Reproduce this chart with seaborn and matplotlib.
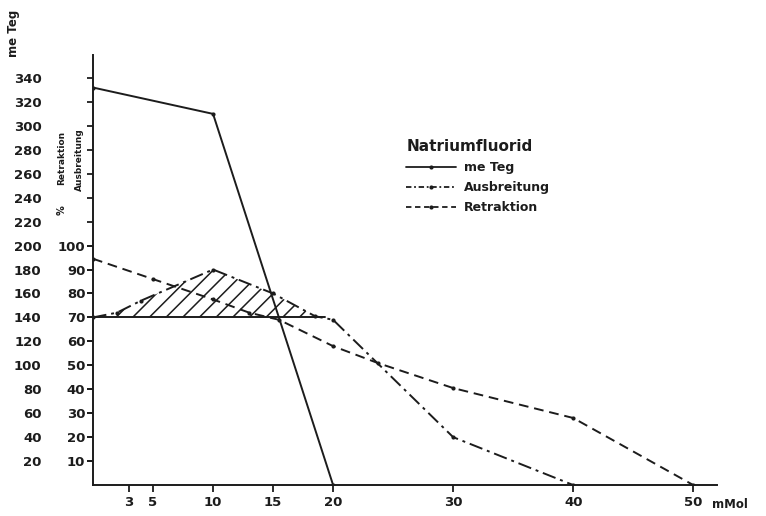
import matplotlib
matplotlib.use("Agg")
import matplotlib.pyplot as plt
from matplotlib.lines import Line2D
import seaborn as sns

# --- data (x in mMol NaF) ---
meteg_x = [0, 10, 20]
meteg_y = [332, 310, 0]            # me Teg

ausbr_x = [0, 2, 4, 10, 15, 18.5, 20, 30, 40]
ausbr_y = [70, 72, 77, 90, 80, 70.5, 69, 20, 0]        # % Ausbreitung

retr_x = [0, 5, 10, 13, 15.5, 20, 23.7, 30, 40, 50]
retr_y = [94.5, 86, 77.5, 72, 69, 58, 51, 40.5, 28, 0]  # % Retraktion

x_ticks = [3, 5, 10, 15, 20, 30, 40, 50]
meteg_ticks = list(range(20, 341, 20))
pct_ticks = list(range(10, 101, 10))
baseline = 70

# hatched area: Ausbreitung above the 70 % line
hatch_x = [0, 2, 4, 10, 15, 18.5, 19.3]
hatch_y = [70, 72, 77, 90, 80, 70.5, 70]

sns.set_theme(style="ticks")
plt.rcParams["font.family"] = ["DejaVu Sans"]
plt.rcParams["font.weight"] = "bold"
plt.rcParams["hatch.linewidth"] = 1.1
ink = "#1c1c1c"

fig = plt.figure(figsize=(7.66, 5.16), dpi=100)
ax = fig.add_axes([0.1214, 0.060, 0.815, 0.833])
ax2 = ax.twinx()

YMAX = 359
ax.set_xlim(0, 52)
ax.set_ylim(0, YMAX)
ax2.set_ylim(0, YMAX / 2)

# me Teg on the main axis
sns.lineplot(x=meteg_x, y=meteg_y, ax=ax, color=ink, lw=1.4, marker="o",
             markersize=3, markeredgewidth=0, sort=False, legend=False)

# percentages on the twin axis (same left spine, half scale)
ax2.fill_between(hatch_x, baseline, hatch_y, facecolor="none", edgecolor=ink,
                 hatch="//", linewidth=0)
ax2.plot([0, 19.3], [baseline, baseline], color=ink, lw=1.4)
sns.lineplot(x=ausbr_x, y=ausbr_y, ax=ax2, color=ink, lw=1.4, marker="o",
             markersize=3, markeredgewidth=0, sort=False, legend=False,
             linestyle=(0, (7, 2.5, 1.5, 2.5)))
sns.lineplot(x=retr_x, y=retr_y, ax=ax2, color=ink, lw=1.4, marker="o",
             markersize=3, markeredgewidth=0, sort=False, legend=False,
             linestyle=(0, (5, 3)))

# axes styling
for a in (ax, ax2):
    for s in ("top", "right"):
        a.spines[s].set_visible(False)
    a.spines["left"].set_color(ink)
    a.spines["bottom"].set_color(ink)
    a.spines["left"].set_linewidth(1.4)
    a.spines["bottom"].set_linewidth(1.4)
ax2.spines["left"].set_visible(False)
ax2.spines["bottom"].set_visible(False)

ax.set_xticks(x_ticks)
ax.set_xticklabels([str(t) for t in x_ticks])
ax.set_yticks(meteg_ticks)
ax.set_yticklabels([str(t) for t in meteg_ticks])
ax.tick_params(axis="x", direction="out", length=5, width=1.3, colors=ink,
               labelsize=9.5, pad=3)
ax.tick_params(axis="y", direction="out", length=4, width=1.3, colors=ink,
               labelsize=9.5, pad=33)

ax2.yaxis.tick_left()
ax2.yaxis.set_label_position("left")
ax2.set_yticks(pct_ticks)
ax2.set_yticklabels([str(t) for t in pct_ticks])
ax2.tick_params(axis="y", direction="out", length=4, width=1.3, colors=ink,
                labelsize=9.5, pad=1.5)
ax2.set_ylabel("")
ax.set_ylabel("")

# axis labels
fig.text(13 / 766, 1 - 33 / 516, "me Teg", rotation=90, ha="center",
         va="center", fontsize=8.5, color=ink, fontweight="bold")
fig.text(62 / 766, 1 - 158 / 516, "Retraktion", rotation=90, ha="center",
         va="center", fontsize=6.5, color=ink, fontweight="bold")
fig.text(79 / 766, 1 - 160 / 516, "Ausbreitung", rotation=90, ha="center",
         va="center", fontsize=6.5, color=ink, fontweight="bold")
fig.text(62 / 766, 1 - 210 / 516, "%", rotation=90, ha="center",
         va="center", fontsize=7, color=ink, fontweight="bold")
fig.text(712 / 766, 1 - 505 / 516, "mMol", ha="left", va="center",
         fontsize=8.5, color=ink, fontweight="bold")

# legend
handles = [
    Line2D([], [], color=ink, lw=1.3, marker="o", markersize=3,
           markeredgewidth=0),
    Line2D([], [], color=ink, lw=1.3, linestyle=(0, (3, 1.5, 1, 1.5)),
           marker="o", markersize=3, markeredgewidth=0),
    Line2D([], [], color=ink, lw=1.3, linestyle=(0, (3, 2)), marker="o",
           markersize=3, markeredgewidth=0),
]
leg = fig.legend(handles, ["me Teg", "Ausbreitung", "Retraktion"],
                 title="Natriumfluorid", loc="upper left",
                 bbox_to_anchor=(395 / 766, 1 - 128 / 516), frameon=False,
                 fontsize=9, handlelength=4, handletextpad=0.6,
                 labelspacing=0.55, alignment="left")
leg.get_title().set_fontsize(11)
leg.get_title().set_fontweight("bold")
leg.get_title().set_color(ink)
for t in leg.get_texts():
    t.set_color(ink)

fig.savefig("out.png", dpi=100, facecolor="white")
